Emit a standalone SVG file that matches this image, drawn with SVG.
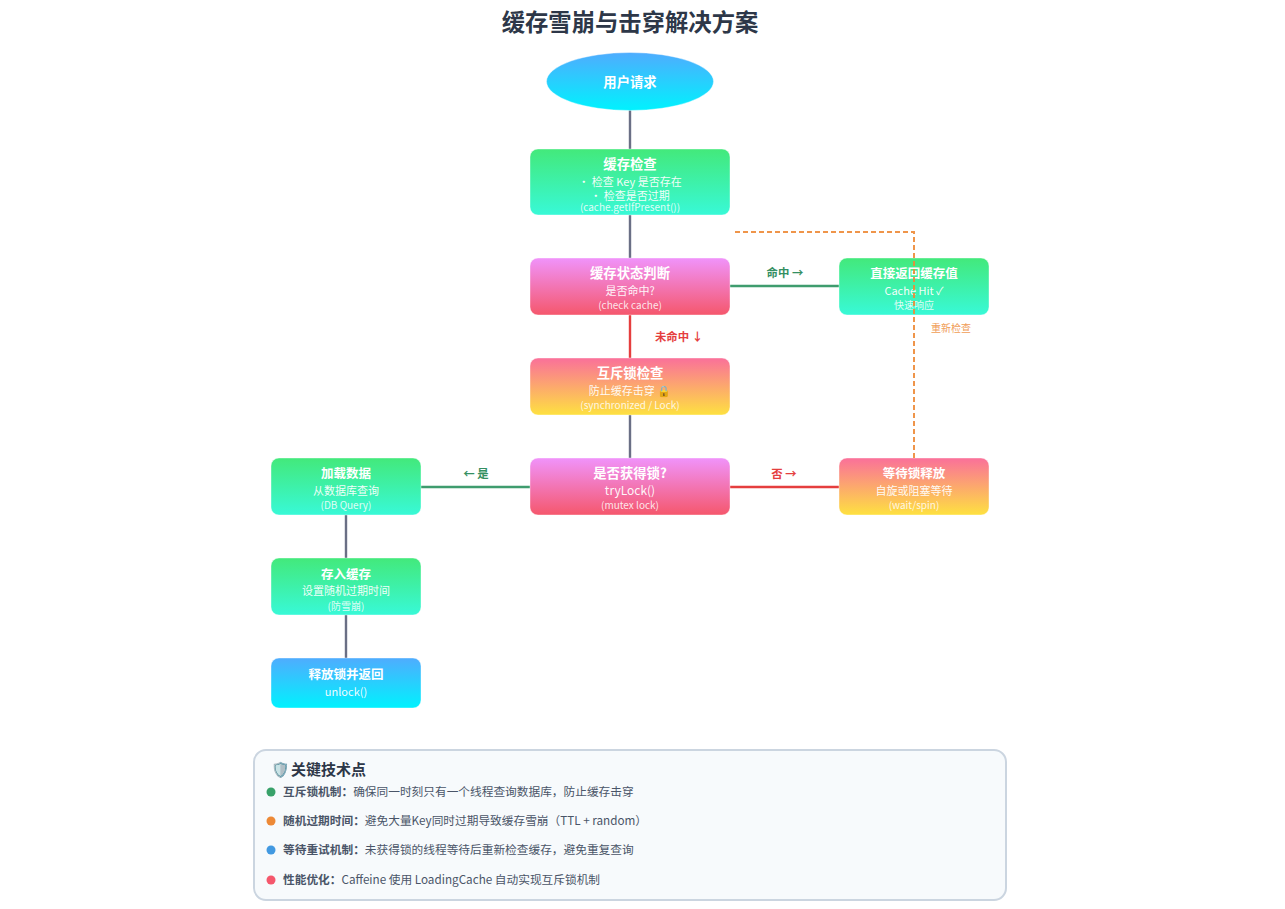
<svg xmlns="http://www.w3.org/2000/svg" width="1285" height="909" viewBox="0 0 1285 909">
<style>
text{font-family:"Noto Sans CJK SC","Noto Sans",sans-serif;text-anchor:middle}
.t{font-size:13.33px;font-weight:700;fill:#fff}
.u{font-size:12.5px;font-weight:700;fill:#fff}
.s{font-size:11px;fill:#fff;fill-opacity:.95}
.m{font-size:10px;fill:#fff;fill-opacity:.85}
.n{stroke:#fff;stroke-opacity:.4;stroke-width:1}
.c{fill:none;stroke-width:2.4}
.g{stroke:#6a6f85}.h{stroke:#3f9c6e}.r{stroke:#e53e3e}
.l{font-size:11.4px;font-weight:700}
.k{font-size:11.7px;fill:#4a5568;text-anchor:start}
.k tspan{font-weight:700}
</style>
<defs>
<linearGradient id="gb" x1="0" y1="0" x2="0" y2="1"><stop offset="0" stop-color="#4facfe"/><stop offset="1" stop-color="#00f2fe"/></linearGradient>
<linearGradient id="gg" x1="0" y1="0" x2="0" y2="1"><stop offset="0" stop-color="#43e97b"/><stop offset="1" stop-color="#38f9d7"/></linearGradient>
<linearGradient id="gp" x1="0" y1="0" x2="0" y2="1"><stop offset="0" stop-color="#f093fb"/><stop offset="1" stop-color="#f5576c"/></linearGradient>
<linearGradient id="gy" x1="0" y1="0" x2="0" y2="1"><stop offset="0" stop-color="#fa709a"/><stop offset="1" stop-color="#fee140"/></linearGradient>
</defs>
<rect width="1285" height="909" fill="#fff"/>
<text id="title" x="630" y="31" font-size="23.33" font-weight="700" fill="#2d3748">缓存雪崩与击穿解决方案</text>
<g id="connectors">
<path class="c g" d="M630 110V149M630 215V258M630 415V458M346 515V558M346 615V658"/>
<path class="c h" d="M730 286H839M530 487H421"/>
<path class="c r" d="M630 315V358M730 487H839"/>
<text class="l" x="785" y="277" fill="#348f62">命中 →</text>
<text class="l" x="679" y="341" fill="#e53e3e">未命中 ↓</text>
<text class="l" x="476" y="478" fill="#348f62">← 是</text>
<text class="l" x="784" y="478" fill="#e53e3e">否 →</text>
</g>
<g id="n-user"><ellipse class="n" cx="630" cy="81.5" rx="83.5" ry="29" fill="url(#gb)"/><text class="t" x="630" y="87">用户请求</text></g>
<g id="n-check"><rect class="n" x="530" y="149" width="200" height="66" rx="8" fill="url(#gg)"/><text class="t" x="630" y="169">缓存检查</text><text class="s" x="630" y="186">・ 检查 Key 是否存在</text><text class="s" x="630" y="200">・ 检查是否过期</text><text class="m" x="630" y="211">(cache.getIfPresent())</text></g>
<g id="n-state"><rect class="n" x="530" y="258" width="200" height="57" rx="8" fill="url(#gp)"/><text class="t" x="630" y="278">缓存状态判断</text><text class="s" x="630" y="295">是否命中?</text><text class="m" x="630" y="309">(check cache)</text></g>
<g id="n-hit"><rect class="n" x="839" y="258" width="150" height="57" rx="8" fill="url(#gg)"/><text class="u" x="914" y="278">直接返回缓存值</text><text class="s" x="914" y="295">Cache Hit ✓</text><text class="m" x="914" y="309">快速响应</text></g>
<g id="n-mutex"><rect class="n" x="530" y="358" width="200" height="57" rx="8" fill="url(#gy)"/><text class="t" x="630" y="378">互斥锁检查</text><text class="s" x="630" y="395">防止缓存击穿 🔒</text><text class="m" x="630" y="409">(synchronized / Lock)</text></g>
<g id="n-lock"><rect class="n" x="530" y="458" width="200" height="57" rx="8" fill="url(#gp)"/><text class="t" x="630" y="478">是否获得锁?</text><text class="s" x="630" y="495" style="font-size:12px">tryLock()</text><text class="m" x="630" y="509">(mutex lock)</text></g>
<g id="n-wait"><rect class="n" x="839" y="458" width="150" height="57" rx="8" fill="url(#gy)"/><text class="u" x="914" y="478">等待锁释放</text><text class="s" x="914" y="495">自旋或阻塞等待</text><text class="m" x="914" y="509">(wait/spin)</text></g>
<g id="n-load"><rect class="n" x="271" y="458" width="150" height="57" rx="8" fill="url(#gg)"/><text class="u" x="346" y="478">加载数据</text><text class="s" x="346" y="495">从数据库查询</text><text class="m" x="346" y="509">(DB Query)</text></g>
<g id="n-save"><rect class="n" x="271" y="558" width="150" height="57" rx="8" fill="url(#gg)"/><text class="u" x="346" y="579">存入缓存</text><text class="s" x="346" y="595">设置随机过期时间</text><text class="m" x="346" y="610">(防雪崩)</text></g>
<g id="n-release"><rect class="n" x="271" y="658" width="150" height="50" rx="8" fill="url(#gb)"/><text class="u" x="346" y="679">释放锁并返回</text><text class="s" x="346" y="696">unlock()</text></g>
<g id="connector-retry">
<path d="M914 458V232H735" fill="none" stroke="#ed8936" stroke-opacity=".9" stroke-width="2" stroke-dasharray="5 3"/>
<text x="951" y="332" font-size="10" fill="#ed8936" fill-opacity=".85">重新检查</text>
</g>
<g id="legend">
<rect x="254" y="750" width="752" height="150" rx="12" fill="#f7fafc" stroke="#cbd5e0" stroke-width="2"/>
<text x="291" y="775" font-size="15" font-weight="700" fill="#2d3748" style="text-anchor:start">关键技术点</text>
<text x="271" y="775" font-size="15" style="text-anchor:start">🛡️</text>
<circle cx="271" cy="792" r="4.5" fill="#38a169"/><text class="k" x="283" y="796"><tspan>互斥锁机制：</tspan>确保同一时刻只有一个线程查询数据库，防止缓存击穿</text>
<circle cx="271" cy="821" r="4.5" fill="#ed8936"/><text class="k" x="283" y="825"><tspan>随机过期时间：</tspan>避免大量Key同时过期导致缓存雪崩（TTL + random）</text>
<circle cx="271" cy="850" r="4.5" fill="#4299e1"/><text class="k" x="283" y="854"><tspan>等待重试机制：</tspan>未获得锁的线程等待后重新检查缓存，避免重复查询</text>
<circle cx="271" cy="880" r="4.5" fill="#f5576c"/><text class="k" x="283" y="884"><tspan>性能优化：</tspan>Caffeine 使用 LoadingCache 自动实现互斥锁机制</text>
</g>
</svg>
